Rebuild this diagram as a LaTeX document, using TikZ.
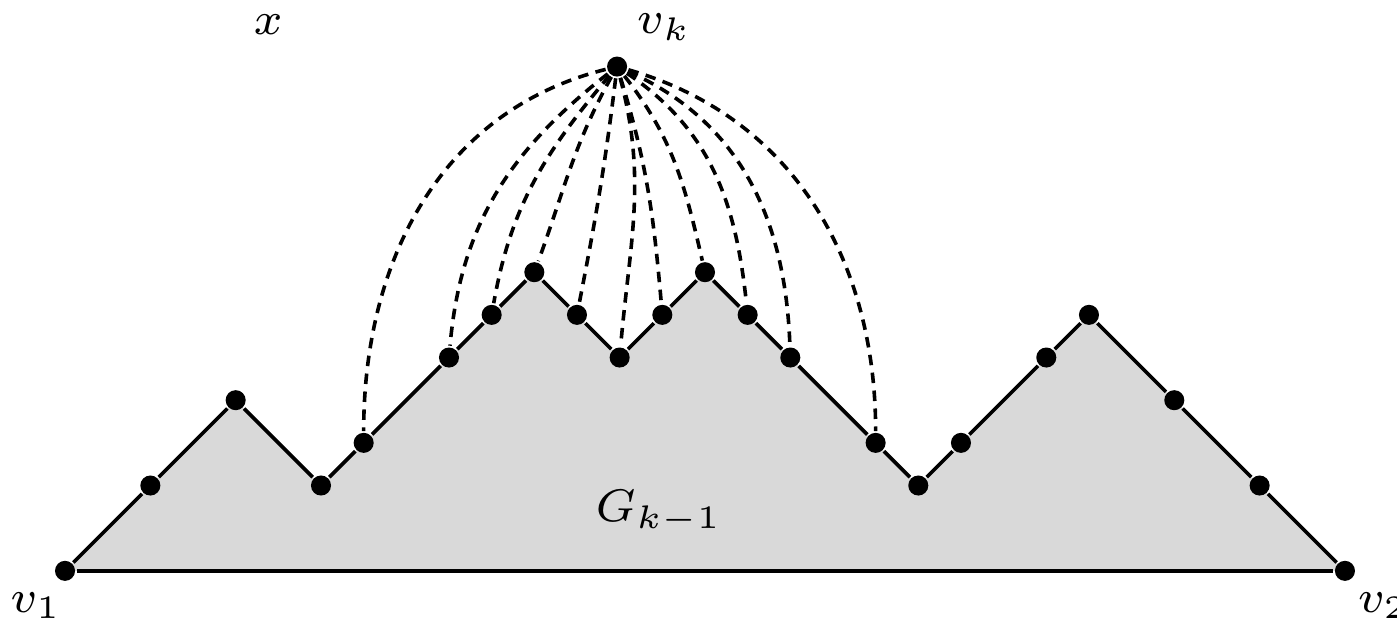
\documentclass[tikz,border=0pt]{standalone}
\usetikzlibrary{backgrounds}

\begin{document}
\begin{tikzpicture}[line width=1.2pt,
  dot/.style={circle,fill,inner sep=0pt,minimum size=0.235cm},
  lab/.style={font=\scriptsize,scale=2.18},
  fan/.style={dash pattern=on 3.5pt off 2.5pt}]
  \useasboundingbox (-0.762,-0.598) rectangle (15.61,6.69);
  % outer boundary of G_{k-1}
  \foreach \n/\x/\y in {0/0/0,1/1/1,2/2/2,3/3/1,4/3.5/1.5,5/4.5/2.5,6/5/3,7/5.5/3.5,
      8/6/3,9/6.5/2.5,10/7/3,11/7.5/3.5,12/8/3,13/8.5/2.5,14/9.5/1.5,15/10/1,
      16/10.5/1.5,17/11.5/2.5,18/12/3,19/13/2,20/14/1,21/15/0}
    \node[dot] (g\n) at (\x,\y) {};
  \begin{scope}[on background layer]
    \fill[black!15] (g0.center) -- (g1.center) -- (g2.center) -- (g3.center)
      -- (g4.center) -- (g5.center) -- (g6.center) -- (g7.center) -- (g8.center)
      -- (g9.center) -- (g10.center) -- (g11.center) -- (g12.center) -- (g13.center)
      -- (g14.center) -- (g15.center) -- (g16.center) -- (g17.center) -- (g18.center)
      -- (g19.center) -- (g20.center) -- (g21.center) -- cycle;
  \end{scope}
  \foreach \i [count=\j] in {0,...,20}
    \draw (g\i) -- (g\j);
  \draw (g21) -- (g0);
  \node[dot] (vk) at (6.47,5.91) {};
  % edges to the new vertex
  \foreach \i/\o/\a in {4/194/90,5/218/85,6/230/80,7/241/70,8/263/79,9/285/85,
      10/287/95,11/308/103,12/326/96,13/336/92,14/344/90}
    \draw[fan] (vk) to[out=\o,in=\a] (g\i);
  \node[lab] (lx) at (2.38,6.40) {$x$};
  \node[lab] (lvk) at (7.02,6.37) {$v_k$};
  \node[lab] (lv1) at (-0.34,-0.41) {$v_1$};
  \node[lab] (lv2) at (15.45,-0.41) {$v_2$};
  \node[lab] (lg) at (6.96,0.69) {$G_{k-1}$};
\end{tikzpicture}
\end{document}
